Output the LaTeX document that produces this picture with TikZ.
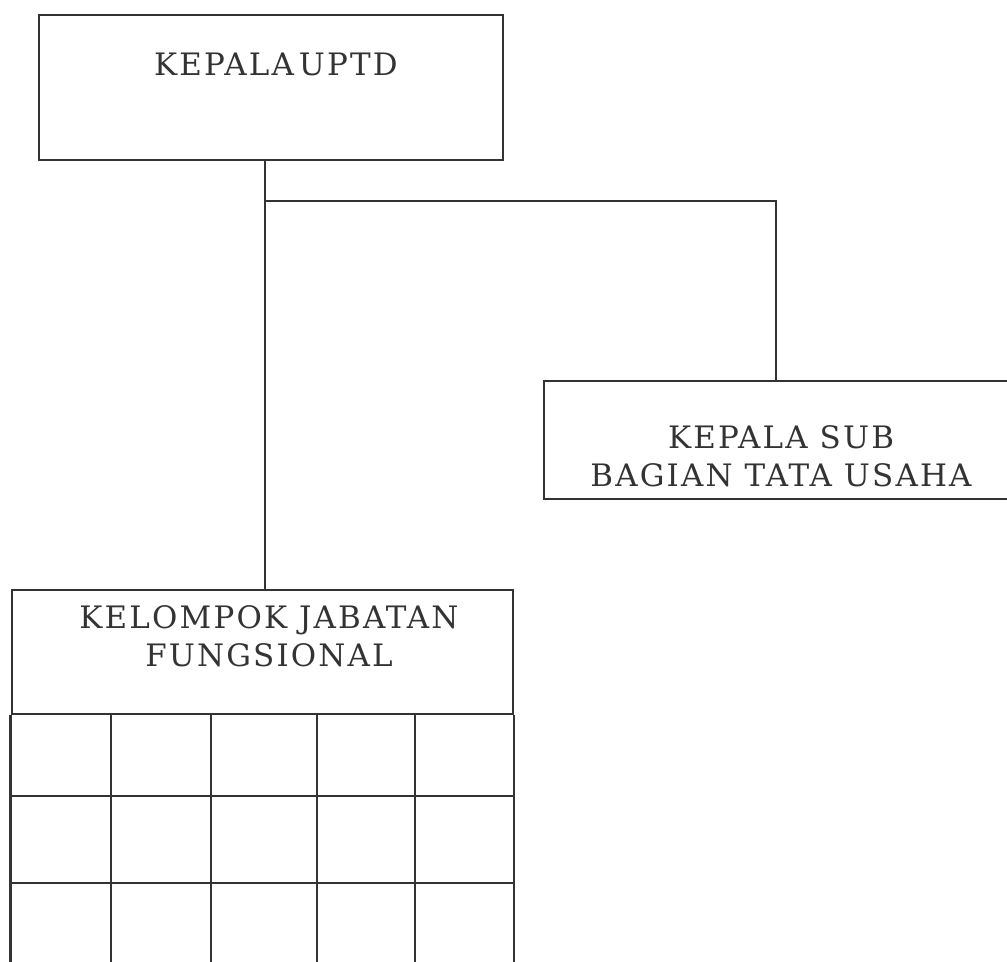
\documentclass[tikz,border=0pt]{standalone}
\usepackage{fontspec}
\setmainfont{DejaVu Serif}[LetterSpace=7]
\tikzset{unit/.style={draw,inner sep=0pt,anchor=north west},
lbl/.style={align=center,font=\fontsize{17.6}{21.5}\selectfont}}

\begin{document}
\begin{tikzpicture}[x=0.02cm,y=-0.02cm,line width=1.25pt,color=black!80]
\useasboundingbox(0,0)rectangle(1007,962);
\clip(0,0)rectangle(1007,962);
\node[unit,minimum width=9.28cm,minimum height=2.9cm](uptd)at(38,14){};
\node[lbl](uptdtxt)at(276,64){KEPALA\,UPTD};
\node[unit,minimum width=10cm,minimum height=2.36cm](tu)at(543,380){};
\node[lbl](tutxt)at(781,456){KEPALA SUB\\BAGIAN TATA USAHA};
\node[unit,minimum width=10.03cm,minimum height=2.48cm](kjf)at(10.5,589){};
\node[lbl](kjftxt)at(269,636){KELOMPOK JABATAN\\FUNGSIONAL};
\coordinate(fork)at(265,201);
\coordinate(tap)at(776,201);
\draw(uptd.south-|fork)--(kjf.north-|fork);
\draw(fork)--(tap)--(tap|-tu.north);
% kotak-kotak jabatan fungsional
\draw(kjf.south west)--++(0,270) (kjf.south east)--++(0,270);
\foreach \y in {796,883}\draw(kjf.west|-0,\y)--(kjf.east|-0,\y);
\foreach \x in {111,211,317,415}\draw(\x,713)--(\x,980);
\end{tikzpicture}
\end{document}
